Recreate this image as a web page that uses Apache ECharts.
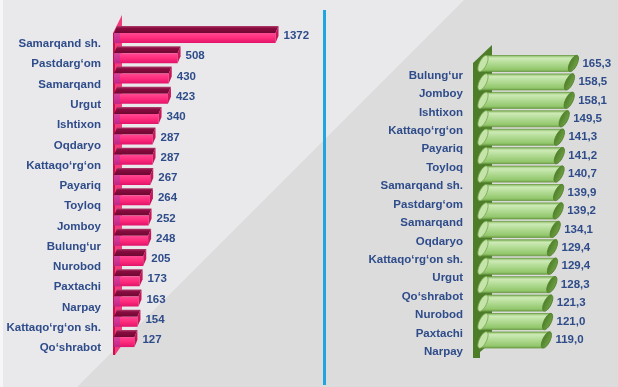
<!DOCTYPE html>
<html>
<head>
<meta charset="utf-8">
<script src="https://cdn.jsdelivr.net/npm/echarts@6/dist/echarts.min.js"></script>
<style>
html,body{margin:0;padding:0;background:#e9e9eb;}
#main{width:618px;height:387px;}
</style>
</head>
<body>
<div id="main"></div>
<script>
const leftCategories = ['Samarqand sh.','Pastdarg‘om','Samarqand','Urgut','Ishtixon','Oqdaryo','Kattaqo‘rg‘on','Payariq','Toyloq','Jomboy','Bulung‘ur','Nurobod','Paxtachi','Narpay','Kattaqo‘rg‘on sh.','Qo‘shrabot'];
const leftValues = [1372,508,430,423,340,287,287,267,264,252,248,205,173,163,154,127];
const rightCategories = ['Bulung‘ur','Jomboy','Ishtixon','Kattaqo‘rg‘on','Payariq','Toyloq','Samarqand sh.','Pastdarg‘om','Samarqand','Oqdaryo','Kattaqo‘rg‘on sh.','Urgut','Qo‘shrabot','Nurobod','Paxtachi','Narpay'];
const rightValues = [165.3,158.5,158.1,149.5,141.3,141.2,140.7,139.9,139.2,134.1,129.4,129.4,128.3,121.3,121.0,119.0];

const FONT = '"Liberation Sans", Arial, sans-serif';
const LABEL_COLOR = '#2f4c8a';
const FS = 11.5;

const chart = echarts.init(document.getElementById('main'), null, {renderer:'canvas'});

function leftItem(params, api){
  const v = api.value(0), i = api.value(1);
  const p0 = api.coord([0, i]), p1 = api.coord([v, i]);
  const xs = p0[0], xe = p1[0], yc = p0[1];
  return {type:'group', children:[
    {type:'polygon', shape:{points:[[xs-3,yc-8.5],[xe+3,yc-8.5],[xe,yc-1.5],[xs-6,yc-1.5]]},
     style:{fill:new echarts.graphic.LinearGradient(0,0,0,1,[{offset:0,color:'#b0406e'},{offset:0.3,color:'#8a0c40'},{offset:1,color:'#6e0832'}])}},
    {type:'rect', shape:{x:xs-6, y:yc-1.5, width:xe-xs+6, height:10},
     style:{fill:new echarts.graphic.LinearGradient(0,0,0,1,[{offset:0,color:'#ff4a93'},{offset:0.5,color:'#ff2b7c'},{offset:1,color:'#e0146a'}])}},
    {type:'rect', shape:{x:xs-6, y:yc-1.5, width:6, height:10}, style:{fill:'rgba(150,60,170,0.45)'}},
    {type:'polygon', shape:{points:[[xe,yc-1.5],[xe+3,yc-8.5],[xe+3,yc+1.5],[xe,yc+8.5]]}, style:{fill:'#c8155c'}},
    {type:'text', style:{text:String(v), x:xe+8, y:yc+1.5, verticalAlign:'middle', align:'left',
      fill:LABEL_COLOR, fontSize:FS, fontWeight:'bold', fontFamily:FONT}}
  ]};
}

function rightItem(params, api){
  const v = api.value(0), i = api.value(1);
  const p0 = api.coord([0, i]), p1 = api.coord([v, i]);
  const xs = p0[0], xe = p1[0], yc = p0[1];
  const s = 8;
  const body = new echarts.graphic.LinearGradient(0,0,0,1,[
    {offset:0,color:'#86b95e'},{offset:0.18,color:'#cdeab6'},{offset:0.5,color:'#b0da92'},{offset:0.85,color:'#93c76c'},{offset:1,color:'#6f9f48'}]);
  const txt = v.toFixed(1).replace('.', ',');
  return {type:'group', children:[
    {type:'polygon', shape:{points:[[xs+2,yc+8],[xs+2+s,yc-8],[xe+s/2,yc-8],[xe-s/2,yc+8]]},
     style:{fill:body, stroke:'#6a9a42', lineWidth:0.8}},
    {type:'ellipse', shape:{cx:0, cy:0, rx:3.6, ry:8.9}, x:xs+2+s/2, y:yc, rotation:-0.46,
     style:{fill:'#c4e4a9', stroke:'#7aa852', lineWidth:0.8}},
    {type:'ellipse', shape:{cx:0, cy:0, rx:3.6, ry:8.9}, x:xe, y:yc, rotation:-0.46,
     style:{fill:new echarts.graphic.LinearGradient(0,0,1,0,[{offset:0,color:'#4f7f2a'},{offset:1,color:'#6fa145'}]), stroke:'#4f7f2a', lineWidth:0.8}},
    {type:'text', style:{text:txt, x:xe+9, y:yc, verticalAlign:'middle', align:'left',
      fill:LABEL_COLOR, fontSize:FS, fontWeight:'bold', fontFamily:FONT}}
  ]};
}

const option = {
  animation:false,
  backgroundColor:'#dcdcdc',
  graphic:[
    {type:'polygon', z:-10, silent:true, shape:{points:[[0,0],[464,0],[77,387],[0,387]]}, style:{fill:'#e9e9eb'}},
    {type:'rect', z:-9, silent:true, shape:{x:0,y:0,width:3,height:387}, style:{fill:'#f6f6f6'}},
    {type:'rect', z:-5, silent:true, shape:{x:323,y:10,width:3,height:375}, style:{fill:'#1fa6e0'}},
    {type:'polygon', z:-4, silent:true, shape:{points:[[113,33],[122,15],[122,345],[115,355],[113,355]]}, style:{fill:'#f23a7c'}},
    {type:'rect', z:-3, silent:true, shape:{x:113,y:33,width:2,height:322}, style:{fill:'#cf0f48'}},
    {type:'polygon', z:-4, silent:true, shape:{points:[[473,63],[492,45],[492,342],[480,352],[480,358],[473,358]]}, style:{fill:'#4e7d2a'}}
  ],
  grid:[
    {left:120, top:24.4, width:170, height:324.3},
    {left:477, top:54.3, width:105, height:294.9}
  ],
  xAxis:[
    {type:'value', gridIndex:0, min:0, max:1500, show:false},
    {type:'value', gridIndex:1, min:0, max:180, show:false}
  ],
  yAxis:[
    {type:'category', gridIndex:0, data:leftCategories, inverse:true,
     axisLine:{show:false}, axisTick:{show:false}, splitLine:{show:false},
     axisLabel:{margin:19, interval:0, showMinLabel:true, showMaxLabel:true, hideOverlap:false,
       verticalAlign:'top', lineHeight:19, color:LABEL_COLOR, fontSize:FS, fontWeight:'bold', fontFamily:FONT}},
    {type:'category', gridIndex:1, data:rightCategories, inverse:true,
     axisLine:{show:false}, axisTick:{show:false}, splitLine:{show:false},
     axisLabel:{margin:14, interval:0, showMinLabel:true, showMaxLabel:true, hideOverlap:false,
       verticalAlign:'top', lineHeight:24, color:LABEL_COLOR, fontSize:FS, fontWeight:'bold', fontFamily:FONT}}
  ],
  series:[
    {type:'custom', xAxisIndex:0, yAxisIndex:0, renderItem:leftItem, clip:false,
     encode:{x:0, y:1}, data:leftValues.map((v,i)=>[v,i])},
    {type:'custom', xAxisIndex:1, yAxisIndex:1, renderItem:rightItem, clip:false,
     encode:{x:0, y:1}, data:rightValues.map((v,i)=>[v,i])}
  ]
};
chart.setOption(option);
</script>
</body>
</html>
